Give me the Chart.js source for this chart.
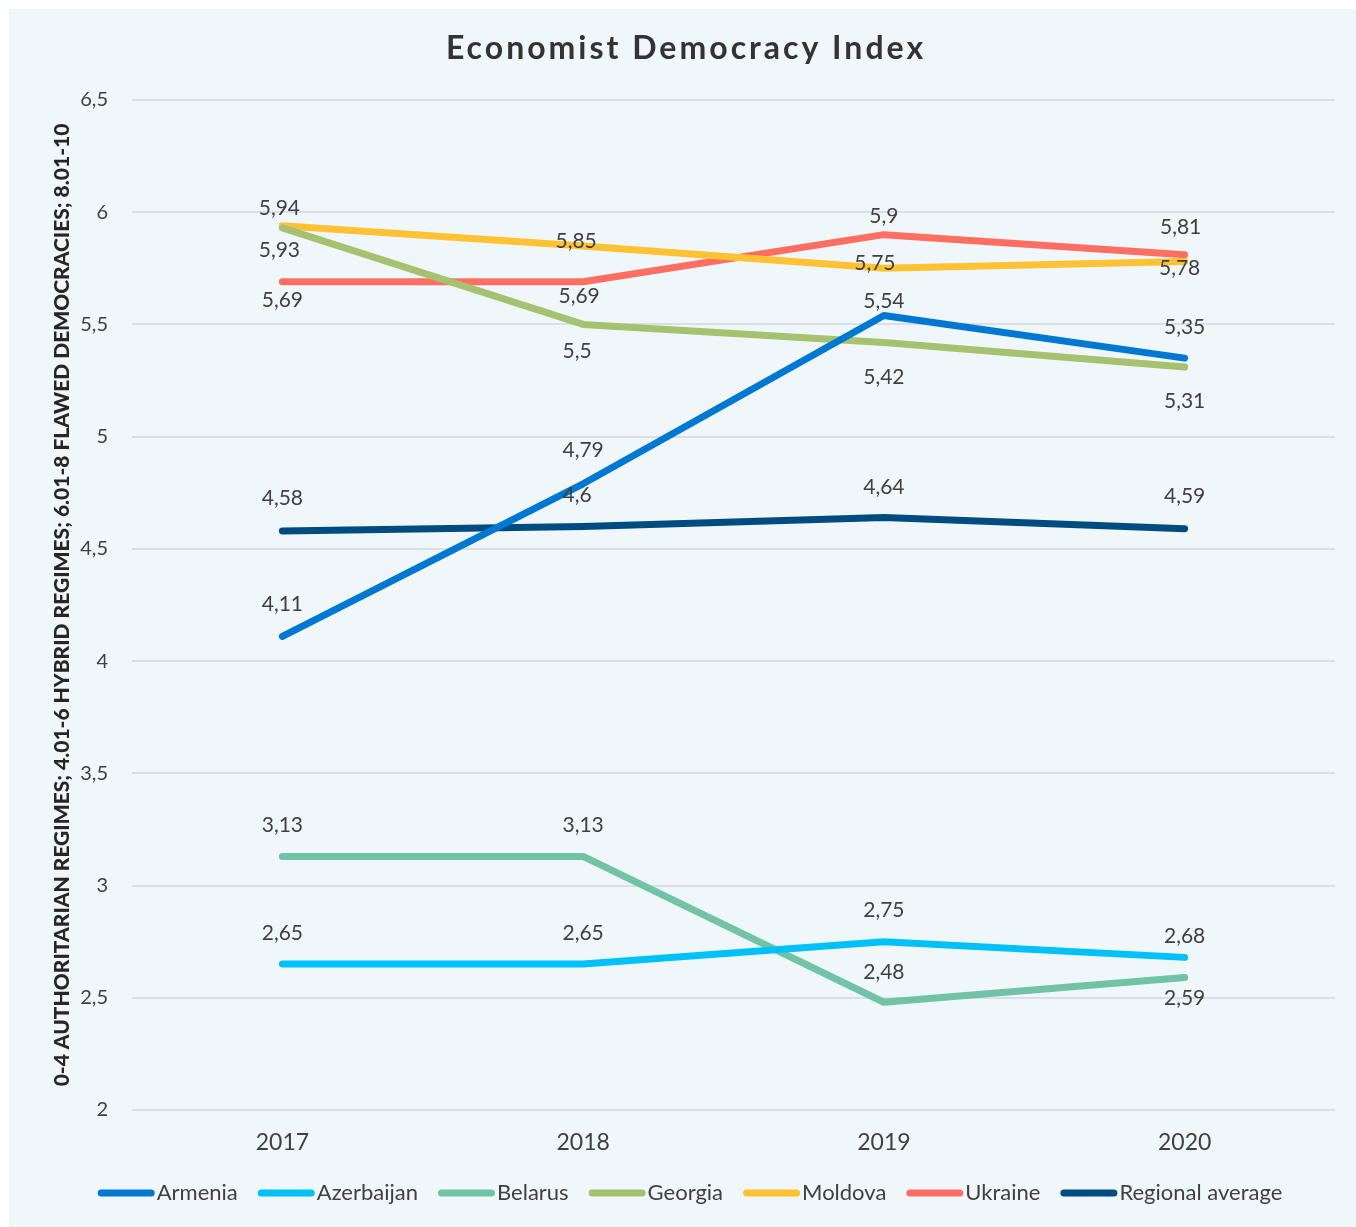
<!DOCTYPE html>
<html>
<head>
<meta charset="utf-8">
<script src="https://cdn.jsdelivr.net/npm/chart.js@4"></script>
<style>
  html, body { margin: 0; padding: 0; background: #ffffff; }
  #wrap { position: absolute; left: 0; top: 0; width: 1356px; height: 1227px; }
</style>
</head>
<body>
<div id="wrap"><canvas id="c" width="1356" height="1227"></canvas></div>
<script>
// ---- data ----
const years = ['2017', '2018', '2019', '2020'];
const armenia    = [4.11, 4.79, 5.54, 5.35];
const azerbaijan = [2.65, 2.65, 2.75, 2.68];
const belarus    = [3.13, 3.13, 2.48, 2.59];
const georgia    = [5.93, 5.50, 5.42, 5.31];
const moldova    = [5.94, 5.85, 5.75, 5.78];
const ukraine    = [5.69, 5.69, 5.90, 5.81];
const regional   = [4.58, 4.60, 4.64, 4.59];
const yTicks = [2, 2.5, 3, 3.5, 4, 4.5, 5, 5.5, 6, 6.5];

// ---- styling (label offsets in px, relative to point) ----
const labelDy = {
  'Armenia':          [-32, -34, -14, -31],
  'Azerbaijan':       [-31, -31, -31, -21],
  'Belarus':          [-31, -31, -30, 21],
  'Georgia':          [22, 27, 35, 34],
  'Moldova':          [-17, -5, -5, 7],
  'Ukraine':          [18, 14, -18, -28],
  'Regional average': [-33, -31, -30, -32]
};
const labelDx = {
  'Moldova': [-3, -7, -9, -5],
  'Ukraine': [0, -4, 0, -4],
  'Georgia': [-3, -6, 0, 0],
  'Regional average': [0, -6, 0, 0]
};

const series = [
  ['Armenia', armenia, '#0078D2'],
  ['Azerbaijan', azerbaijan, '#00C2F8'],
  ['Belarus', belarus, '#72C3A5'],
  ['Georgia', georgia, '#A6C170'],
  ['Moldova', moldova, '#FFC232'],
  ['Ukraine', ukraine, '#FF6F61'],
  ['Regional average', regional, '#004B7F']
];

const FONT = "Lato, 'Open Sans', sans-serif";
const TEXT = '#404040';

const bgPlugin = {
  id: 'bg',
  beforeDraw(chart) {
    const ctx = chart.ctx;
    ctx.save();
    ctx.fillStyle = '#ffffff';
    ctx.fillRect(0, 0, chart.width, chart.height);
    ctx.fillStyle = '#EFF7FB';
    ctx.fillRect(9, 9, chart.width - 9, chart.height - 9);
    ctx.restore();
  }
};

const titlePlugin = {
  id: 'customTitle',
  afterDraw(chart) {
    const ctx = chart.ctx;
    ctx.save();
    ctx.font = "bold 32px " + FONT;
    try { ctx.letterSpacing = '3px'; } catch (e) {}
    ctx.fillStyle = '#333333';
    ctx.textAlign = 'center';
    ctx.textBaseline = 'middle';
    ctx.fillText('Economist Democracy Index', 686, 49);
    ctx.restore();
  }
};

const legendPlugin = {
  id: 'customLegend',
  afterDraw(chart) {
    const ctx = chart.ctx;
    const lineW = 57, gapIn = 2, gapOut = 20, y = 1193;
    ctx.save();
    ctx.font = "22px " + FONT;
    const items = chart.data.datasets.map(ds => ({
      label: ds.label, color: ds.borderColor, w: ctx.measureText(ds.label).width
    }));
    let total = 0;
    items.forEach((it, i) => { total += lineW + gapIn + it.w + (i < items.length - 1 ? gapOut : 0); });
    let x = 690 - total / 2;
    items.forEach(it => {
      ctx.strokeStyle = it.color;
      ctx.lineWidth = 7;
      ctx.lineCap = 'round';
      ctx.beginPath();
      ctx.moveTo(x + 3.5, y);
      ctx.lineTo(x + lineW - 3.5, y);
      ctx.stroke();
      ctx.fillStyle = TEXT;
      ctx.textAlign = 'left';
      ctx.textBaseline = 'middle';
      ctx.fillText(it.label, x + lineW + gapIn, y);
      x += lineW + gapIn + it.w + gapOut;
    });
    ctx.restore();
  }
};

const labelPlugin = {
  id: 'valueLabels',
  afterDatasetsDraw(chart) {
    const ctx = chart.ctx;
    ctx.save();
    ctx.font = "21px " + FONT;
    ctx.fillStyle = TEXT;
    ctx.textAlign = 'center';
    ctx.textBaseline = 'middle';
    chart.data.datasets.forEach((ds, di) => {
      const meta = chart.getDatasetMeta(di);
      const dys = labelDy[ds.label] || [];
      const dxs = labelDx[ds.label] || [];
      meta.data.forEach((pt, i) => {
        const txt = String(ds.data[i]).replace('.', ',');
        ctx.fillText(txt, pt.x + (dxs[i] || 0), pt.y + (dys[i] || 0));
      });
    });
    ctx.restore();
  }
};

new Chart(document.getElementById('c'), {
  type: 'line',
  data: {
    labels: years,
    datasets: series.map(([name, vals, color]) => ({
      label: name,
      data: vals,
      borderColor: color,
      backgroundColor: color,
      borderWidth: 7,
      pointRadius: 0,
      pointHoverRadius: 0,
      borderCapStyle: 'round',
      borderJoinStyle: 'round',
      tension: 0,
      fill: false
    }))
  },
  options: {
    responsive: false,
    animation: false,
    devicePixelRatio: 1,
    layout: { padding: { left: 0, right: 21, top: 100, bottom: 49 } },
    plugins: {
      title: { display: false },
      tooltip: { enabled: false },
      legend: { display: false }
    },
    scales: {
      x: {
        type: 'category',
        offset: true,
        grid: { display: false, drawTicks: false },
        border: { display: false },
        ticks: { color: TEXT, font: { family: FONT, size: 23 }, padding: 19 },
        afterFit(scale) { scale.height = 68; }
      },
      y: {
        min: 2,
        max: 6.5,
        afterBuildTicks(scale) { scale.ticks = yTicks.map(v => ({ value: v })); },
        grid: { color: '#D9DEE9', lineWidth: 2, drawTicks: false },
        border: { display: false },
        ticks: {
          color: TEXT,
          font: { family: FONT, size: 20 },
          padding: 24,
          callback: (v) => String(v).replace('.', ',')
        },
        title: {
          display: true,
          text: '0-4 AUTHORITARIAN REGIMES; 4.01-6 HYBRID REGIMES; 6.01-8 FLAWED DEMOCRACIES; 8.01-10',
          color: '#262626',
          font: { family: FONT, size: 21, weight: '900' },
          padding: { top: 50, bottom: 0 }
        },
        afterFit(scale) { scale.width = 132; }
      }
    }
  },
  plugins: [bgPlugin, titlePlugin, labelPlugin, legendPlugin]
});
</script>
</body>
</html>
